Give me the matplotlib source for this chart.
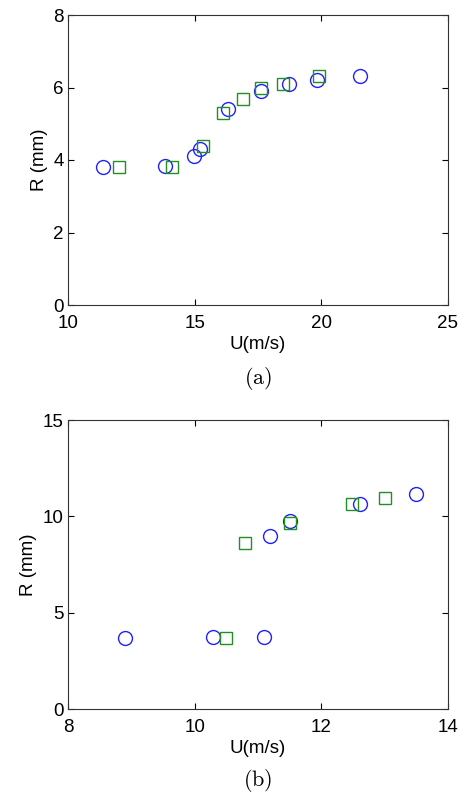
import numpy as np
from matplotlib import pyplot as plt

plt.rcParams['font.family'] = ['Liberation Sans', 'DejaVu Sans']
plt.rcParams['mathtext.fontset'] = 'cm'

''' Data read off the figure '''
# panel (a)
a_circ_u = [11.37, 13.84, 14.99, 15.21, 16.33, 17.61, 18.71, 19.82, 21.53]
a_circ_r = [3.80, 3.83, 4.10, 4.31, 5.40, 5.89, 6.10, 6.21, 6.31]
a_sq_u = [12.0, 14.1, 15.32, 16.1, 16.9, 17.6, 18.5, 19.9]
a_sq_r = [3.80, 3.80, 4.40, 5.30, 5.69, 6.00, 6.09, 6.31]

# panel (b)
b_circ_u = [8.90, 10.29, 11.10, 11.19, 11.50, 12.61, 13.50]
b_circ_r = [3.66, 3.75, 3.75, 8.99, 9.78, 10.66, 11.18]
b_sq_u = [10.49, 10.80, 11.50, 12.49, 13.0]
b_sq_r = [3.66, 8.59, 9.64, 10.66, 10.97]

W, H = 466, 795
fig = plt.figure(figsize=(W / 100, H / 100), dpi=100)
ax1 = fig.add_axes([68 / W, 1 - 305 / H, 380 / W, 290 / H])
ax2 = fig.add_axes([68 / W, 1 - 709 / H, 380 / W, 289 / H])

def style(ax, xlim, ylim, xticks, yticks):
    ax.set_xlim(xlim)
    ax.set_ylim(ylim)
    ax.set_xticks(xticks)
    ax.set_yticks(yticks)
    ax.tick_params(direction='in', top=True, right=True, labelsize=13.5,
                   length=4, width=0.8)
    ax.tick_params(axis='x', pad=7)
    ax.tick_params(axis='y', pad=3)
    ax.set_xlabel('U(m/s)', fontsize=13.5, labelpad=3)
    ax.set_ylabel('R (mm)', fontsize=13.5, labelpad=4)
    for s in ax.spines.values():
        s.set_linewidth(0.8)
        s.set_color('#333333')

ax1.plot(a_circ_u, a_circ_r, 'o', mfc='none', mec='#2020ff', ms=10, mew=1.0)
ax1.plot(a_sq_u, a_sq_r, 's', mfc='none', mec='#209020', ms=8, mew=1.0)
style(ax1, (10, 25), (0, 8), [10, 15, 20, 25], [0, 2, 4, 6, 8])

ax2.plot(b_circ_u, b_circ_r, 'o', mfc='none', mec='#2020ff', ms=10, mew=1.0)
ax2.plot(b_sq_u, b_sq_r, 's', mfc='none', mec='#209020', ms=8, mew=1.0)
style(ax2, (8, 14), (0, 15), [8, 10, 12, 14], [0, 5, 10, 15])

# captions
fig.text(258 / W, 1 - 378 / H, r'$\mathrm{(a)}$', ha='center', va='center', fontsize=16)
fig.text(258 / W, 1 - 781 / H, r'$\mathrm{(b)}$', ha='center', va='center', fontsize=16)

fig.savefig('out.png', dpi=100)
